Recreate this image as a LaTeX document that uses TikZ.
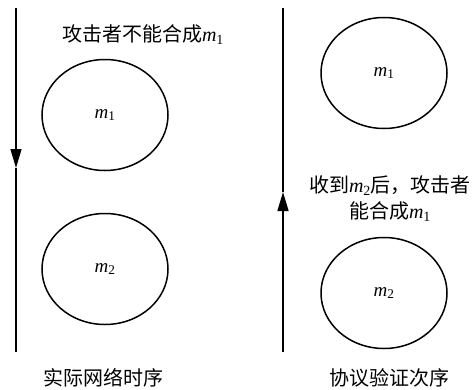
\documentclass[tikz,border=0pt]{standalone}
\usepackage{fontspec}
\setmainfont{Liberation Serif}
\newfontfamily\cjk{Noto Sans CJK SC}
\usetikzlibrary{arrows.meta,shapes.geometric}
\newcommand\mvar[1]{{\rmfamily\itshape m}\textsubscript{\rmfamily #1}}
\tikzset{
  x=1pt,y=-1pt,
  msg/.style={draw,ellipse,line width=1.5pt,inner sep=0pt,minimum width=126pt,minimum height=111pt,font=\fontsize{19}{21}\selectfont},
  axis/.style={line width=1.5pt},
  tip/.style={-{Triangle[length=19pt,width=11pt]}},
  lbl/.style={font=\fontsize{20}{26}\selectfont\cjk,align=center,inner sep=0pt},
}
\begin{document}
\begin{tikzpicture}
\useasboundingbox (0,0) rectangle (476,389);
% left time line
\coordinate (Ltop) at (16,8);
\coordinate (Lmid) at (16,168);
\coordinate (Lbot) at (16,352);
\draw[axis,tip] (Ltop) -- (Lmid);
\draw[axis] (Lmid) -- (Lbot);
% right time line
\coordinate (Rtop) at (283,8);
\coordinate (Rmid) at (283,192);
\coordinate (Rbot) at (283,352);
\draw[axis,tip] (Rbot) -- (Rmid);
\draw[axis] (Rmid) -- (Rtop);
% ellipses
\node[msg] (Lm1) at (105,115) {\mvar{1}};
\node[msg] (Lm2) at (105,269) {\mvar{2}};
\node[msg] (Rm1) at (384,73) {\mvar{1}};
\node[msg] (Rm2) at (384,293) {\mvar{2}};
% labels
\node[lbl] (t1) at (143,35) {攻击者不能合成\mvar{1}};
\node[lbl] (t2) at (390,199) {收到\mvar{2}后，攻击者\\能合成\mvar{1}};
\node[lbl] (c1) at (103,378) {实际网络时序};
\node[lbl] (c2) at (389,378) {协议验证次序};
\end{tikzpicture}
\end{document}
